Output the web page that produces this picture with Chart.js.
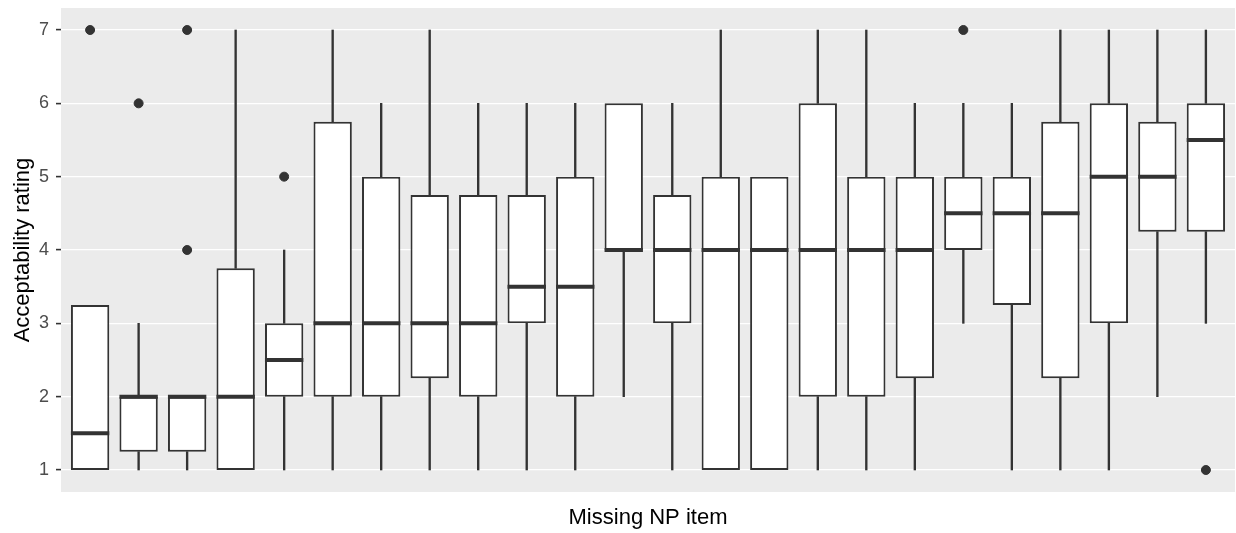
<!DOCTYPE html>
<html>
<head>
<meta charset="utf-8">
<script src="https://cdn.jsdelivr.net/npm/chart.js@4/dist/chart.umd.min.js"></script>
<style>
  html, body { margin: 0; padding: 0; background: #ffffff; }
  #wrap { width: 1236px; height: 533px; }
</style>
</head>
<body>
<div id="wrap"><canvas id="c" width="1236" height="533"></canvas></div>
<script>
// ---- data ----
const categories = ['1','2','3','4','5','6','7','8','9','10','11','12',
                    '13','14','15','16','17','18','19','20','21','22','23','24'];
const whiskerLow  = [1,    1,    1,    1,   1, 1,    1, 1,    1,    1,    1, 2, 1,    1, 1, 1, 1, 1,    3, 1,    1,    1, 2,    3];
const q1          = [1,    1.25, 1.25, 1,   2, 2,    2, 2.25, 2,    3,    2, 4, 3,    1, 1, 2, 2, 2.25, 4, 3.25, 2.25, 3, 4.25, 4.25];
const medians     = [1.5,  2,    2,    2,   2.5, 3,  3, 3,    3,    3.5,  3.5, 4, 4,  4, 4, 4, 4, 4,    4.5, 4.5, 4.5,  5, 5,    5.5];
const q3          = [3.25, 2,    2,    3.75, 3, 5.75, 5, 4.75, 4.75, 4.75, 5, 6, 4.75, 5, 5, 6, 5, 5,    5, 5,    5.75, 6, 5.75, 6];
const whiskerHigh = [3.25, 3,    2,    7,   4, 7,    6, 7,    6,    6,    6, 6, 6,    7, 5, 7, 7, 6,    6, 6,    7,    7, 7,    7];
const outlierItem  = [1, 2, 3, 3, 5, 19, 24];
const outlierValue = [7, 6, 7, 4, 5, 7,  1];
const yTicks = [1, 2, 3, 4, 5, 6, 7];

const xPos = categories.map((c, i) => i + 1);
const ink = '#333333';
const fontFamily = 'Liberation Sans, Arial, sans-serif';

const panelBg = {
  id: 'panelBg',
  beforeDraw(chart) {
    const a = chart.chartArea, ctx = chart.ctx;
    ctx.save();
    ctx.fillStyle = '#EBEBEB';
    ctx.fillRect(a.left, a.top, a.right - a.left, a.bottom - a.top);
    ctx.restore();
  }
};

const whiskerStyle = {
  backgroundColor: ink,
  borderWidth: 0,
  grouped: false,
  barThickness: 1.7,
  order: 3
};

new Chart(document.getElementById('c'), {
  type: 'bar',
  data: {
    datasets: [
      {
        type: 'line',
        label: 'outliers',
        data: outlierItem.map((it, i) => ({ x: it, y: outlierValue[i] })),
        showLine: false,
        pointStyle: 'circle',
        pointRadius: 4.5,
        pointBackgroundColor: ink,
        pointBorderColor: ink,
        pointBorderWidth: 1,
        clip: false,
        order: 0
      },
      {
        type: 'line',
        label: 'median',
        data: xPos.map((x, i) => ({ x: x, y: medians[i] })),
        showLine: false,
        pointStyle: 'line',
        pointRadius: (ctx) => {
          const s = ctx.chart.scales.x;
          return Math.abs(s.getPixelForValue(1.375) - s.getPixelForValue(1)) + 1;
        },
        pointBorderColor: ink,
        pointBorderWidth: 4,
        clip: false,
        order: 1
      },
      {
        label: 'box',
        data: xPos.map((x, i) => ({ x: x, y: [q1[i], q3[i]] })),
        backgroundColor: '#ffffff',
        borderColor: ink,
        borderWidth: 2,
        borderSkipped: false,
        grouped: false,
        barPercentage: 0.79,
        categoryPercentage: 1.0,
        order: 2
      },
      Object.assign({
        label: 'lower whisker',
        data: xPos.map((x, i) => ({ x: x, y: whiskerLow[i] < q1[i] ? [whiskerLow[i], q1[i]] : null }))
      }, whiskerStyle),
      Object.assign({
        label: 'upper whisker',
        data: xPos.map((x, i) => ({ x: x, y: whiskerHigh[i] > q3[i] ? [q3[i], whiskerHigh[i]] : null }))
      }, whiskerStyle)
    ]
  },
  options: {
    responsive: false,
    animation: false,
    events: [],
    layout: { autoPadding: false, padding: { top: 8, right: 1, left: 0, bottom: 0 } },
    plugins: { legend: { display: false }, tooltip: { enabled: false } },
    scales: {
      x: {
        type: 'linear',
        min: 0.4,
        max: 24.6,
        offset: false,
        grid: { display: false },
        border: { display: false },
        ticks: { display: false },
        title: {
          display: true,
          text: 'Missing NP item',
          color: '#000000',
          font: { family: fontFamily, size: 22 },
          padding: { top: 0, bottom: 2 }
        },
        afterFit(scale) { scale.height = 41; scale.paddingLeft = 0; scale.paddingRight = 0; }
      },
      y: {
        type: 'linear',
        min: 0.7,
        max: 7.3,
        afterBuildTicks(scale) { scale.ticks = yTicks.map(v => ({ value: v })); },
        grid: {
          color: '#ffffff',
          lineWidth: 1.2,
          drawTicks: true,
          tickLength: 5,
          tickColor: ink,
          tickWidth: 1.6
        },
        border: { display: false },
        ticks: {
          color: '#4D4D4D',
          padding: 7,
          font: { family: fontFamily, size: 18 },
          callback: (v) => String(v)
        },
        title: {
          display: true,
          text: 'Acceptability rating',
          color: '#000000',
          font: { family: fontFamily, size: 22 },
          padding: { top: 10, bottom: 0 }
        },
        afterFit(scale) { scale.width = 61; scale.paddingTop = 0; scale.paddingBottom = 0; }
      }
    }
  },
  plugins: [panelBg]
});
</script>
</body>
</html>
